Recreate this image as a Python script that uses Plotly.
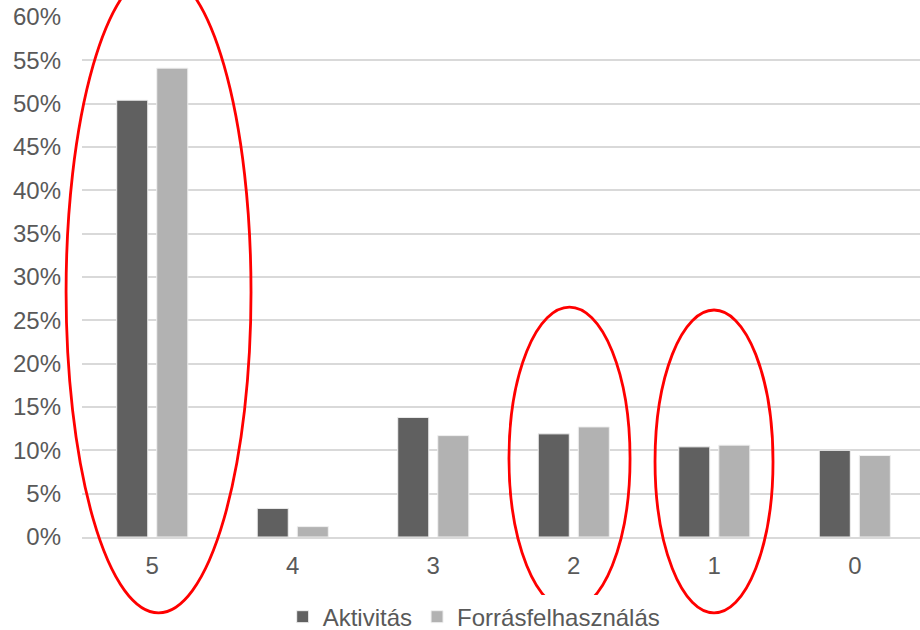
import plotly.graph_objects as go

categories = ["5", "4", "3", "2", "1", "0"]
aktivitas = [50.4, 3.3, 13.8, 11.9, 10.4, 10.0]
forras = [54.1, 1.2, 11.7, 12.7, 10.6, 9.4]
series_names = ["Aktivitás", "Forrásfelhasználás"]
tick_vals = [i * 0.05 for i in range(13)]

# highlighted groups (paper coords of ellipses)
ellipses = [
    (-0.019, -0.146, 0.2017, 1.088),
    (0.5095, -0.140, 0.654, 0.442),
    (0.6838, -0.146, 0.8246, 0.4365),
]

fig = go.Figure()
fig.add_trace(go.Bar(
    x=categories, y=[v / 100 for v in aktivitas], name=series_names[0],
    marker=dict(color="#606060", line=dict(color="#f0f0f0", width=1)),
))
fig.add_trace(go.Bar(
    x=categories, y=[v / 100 for v in forras], name=series_names[1],
    marker=dict(color="#b2b2b2", line=dict(color="#f0f0f0", width=1)),
))

for x0, y0, x1, y1 in ellipses:
    fig.add_shape(type="circle", xref="paper", yref="paper",
                  x0=x0, y0=y0, x1=x1, y1=y1,
                  line=dict(color="#ff0000", width=2.8), layer="above")

fig.update_layout(
    width=920, height=630,
    margin=dict(l=82, r=0, t=17, b=93, autoexpand=False),
    paper_bgcolor="white", plot_bgcolor="white",
    barmode="group", bargap=0.43, bargroupgap=0.225,
    font=dict(family="Liberation Sans, Arial, sans-serif", color="#595959", size=24),
    showlegend=True,
    legend=dict(orientation="h", x=0.468, xanchor="center", y=-0.154, yanchor="middle",
                font=dict(size=24, color="#595959"), itemwidth=30,
                traceorder="normal"),
    xaxis=dict(type="category", range=[-0.5, 5.464], showgrid=False,
               showline=True, linecolor="#d9d9d9", linewidth=1.5,
               ticks="", ticklabelstandoff=6, automargin=False,
               tickfont=dict(size=24, color="#595959")),
    yaxis=dict(range=[0, 0.6], tickvals=tick_vals, tickformat=".0%",
               showgrid=True, gridcolor="#d9d9d9", gridwidth=1.5,
               zeroline=False, showline=False, ticks="",
               ticklabelstandoff=20, automargin=False,
               tickfont=dict(size=24, color="#595959")),
)

fig.write_html("out.html", config={"displayModeBar": False},
               post_script="document.body.style.margin='0';document.body.style.overflow='hidden';")
